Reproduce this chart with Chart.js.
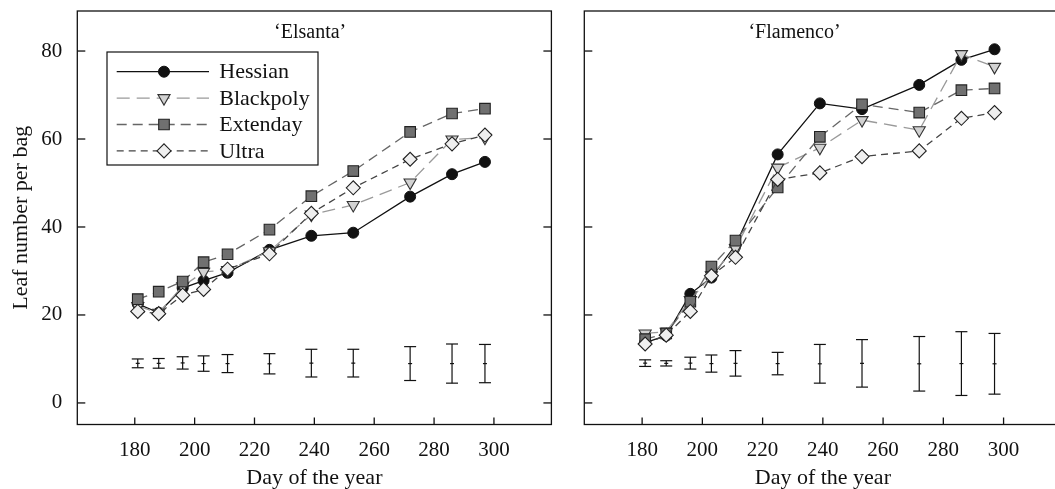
<!DOCTYPE html>
<html>
<head>
<meta charset="utf-8">
<script src="https://cdn.jsdelivr.net/npm/chart.js@4.4.1/dist/chart.umd.min.js"></script>
<style>
  html, body { margin: 0; padding: 0; background: #fff; overflow: hidden; width: 1055px; height: 489px; }
  canvas { position: absolute; top: 0; }
  #c1 { left: 0; }
  #c2 { left: 560px; }
</style>
</head>
<body>
<canvas id="c1" width="560" height="489"></canvas>
<canvas id="c2" width="510" height="489"></canvas>
<script>
// ---- data ----
const days = [181, 188, 196, 203, 211, 225, 239, 253, 272, 286, 297];
const xTicks = [180, 200, 220, 240, 260, 280, 300];
const yTicks = [0, 20, 40, 60, 80];
const seriesNames = ['Hessian', 'Blackpoly', 'Extenday', 'Ultra'];

const elsantaHessian   = [22.5, 20.5, 26.1, 27.8, 29.6, 34.8, 38.0, 38.7, 46.9, 52.0, 54.8];
const elsantaBlackpoly = [22.0, 20.5, 26.5, 29.8, 30.2, 34.5, 42.8, 45.0, 50.1, 59.9, 60.3];
const elsantaExtenday  = [23.6, 25.3, 27.6, 32.0, 33.8, 39.4, 47.0, 52.7, 61.6, 65.8, 66.9];
const elsantaUltra     = [20.8, 20.3, 24.5, 25.8, 30.4, 33.9, 43.1, 48.9, 55.4, 58.9, 60.9];
const elsantaErrLow    = [8.0, 7.9, 7.7, 7.2, 6.9, 6.6, 5.9, 5.9, 5.1, 4.5, 4.6];
const elsantaErrHigh   = [10.0, 10.1, 10.5, 10.7, 11.0, 11.2, 12.2, 12.2, 12.8, 13.4, 13.3];

const flamencoHessian   = [13.7, 15.3, 24.8, 28.5, 35.9, 56.5, 68.1, 66.8, 72.3, 78.0, 80.4];
const flamencoBlackpoly = [15.8, 16.2, 23.4, 29.0, 35.2, 53.5, 58.0, 64.3, 62.0, 79.3, 76.4];
const flamencoExtenday  = [14.5, 15.8, 23.0, 31.0, 36.9, 49.0, 60.5, 67.9, 66.0, 71.1, 71.5];
const flamencoUltra     = [13.4, 15.4, 20.8, 28.9, 33.1, 50.8, 52.3, 56.0, 57.3, 64.7, 66.0];
const flamencoErrLow    = [8.3, 8.4, 7.7, 7.0, 6.1, 6.4, 4.5, 3.6, 2.7, 1.7, 2.0];
const flamencoErrHigh   = [9.8, 9.6, 10.4, 10.9, 11.9, 11.5, 13.3, 14.4, 15.1, 16.2, 15.8];

// ---- styling ----
const FONT = '"Liberation Serif", "DejaVu Serif", serif';
const INK = '#111';
const styles = [
  { borderColor: '#111', borderWidth: 1.3, borderDash: [], pointStyle: 'circle', pointRadius: 5.5, pointRotation: 0,
    pointBackgroundColor: '#111', pointBorderColor: '#111', pointBorderWidth: 1, order: 4 },
  { borderColor: '#9a9a9a', borderWidth: 1.3, borderDash: [13, 7], pointStyle: 'triangle', pointRadius: 7, pointRotation: 180,
    pointBackgroundColor: '#d2d2d2', pointBorderColor: '#333', pointBorderWidth: 1.1, order: 3 },
  { borderColor: '#666', borderWidth: 1.3, borderDash: [10, 6], pointStyle: 'rect', pointRadius: 7.5, pointRotation: 0,
    pointBackgroundColor: '#707070', pointBorderColor: '#222', pointBorderWidth: 1.1, order: 2 },
  { borderColor: '#444', borderWidth: 1.3, borderDash: [7, 5], pointStyle: 'rectRot', pointRadius: 7, pointRotation: 0,
    pointBackgroundColor: '#efefef', pointBorderColor: '#222', pointBorderWidth: 1.1, order: 1 }
];

function makeDatasets(arrays) {
  return arrays.map((vals, i) => Object.assign({
    label: seriesNames[i],
    data: days.map((d, j) => ({ x: d, y: vals[j] })),
    fill: false, tension: 0, pointHoverRadius: 0
  }, styles[i]));
}

function line(ctx, x1, y1, x2, y2) { ctx.beginPath(); ctx.moveTo(x1, y1); ctx.lineTo(x2, y2); ctx.stroke(); }

const panelPlugin = {
  id: 'panel',
  beforeDatasetsDraw(chart, args, opts) {
    const { ctx, chartArea: a, scales: { x, y } } = chart;
    ctx.save();
    ctx.strokeStyle = INK; ctx.lineWidth = 1.3;
    ctx.strokeRect(a.left, a.top, a.right - a.left, a.bottom - a.top);
    yTicks.forEach(v => {
      const py = y.getPixelForValue(v);
      line(ctx, a.left, py, a.left + 8, py);
      if (opts.rightTicks) line(ctx, a.right, py, a.right - 8, py);
    });
    xTicks.forEach(v => {
      const px = x.getPixelForValue(v);
      line(ctx, px, a.bottom, px, a.bottom - 7);
    });
    // error bars
    ctx.lineWidth = 1.2;
    days.forEach((d, i) => {
      const px = x.getPixelForValue(d);
      const yl = y.getPixelForValue(opts.errLow[i]);
      const yh = y.getPixelForValue(opts.errHigh[i]);
      const ym = (yl + yh) / 2;
      line(ctx, px, yl, px, yh);
      line(ctx, px - 6, yl, px + 6, yl);
      line(ctx, px - 6, yh, px + 6, yh);
      line(ctx, px - 2, ym, px + 2, ym);
    });
    // panel title
    ctx.fillStyle = INK;
    ctx.font = '20px ' + FONT;
    ctx.textAlign = 'center'; ctx.textBaseline = 'middle';
    ctx.fillText(opts.title, x.getPixelForValue(opts.titleX), a.top + 22);
    ctx.restore();
  },
  afterDatasetsDraw(chart, args, opts) {
    if (!opts.legend) return;
    const { ctx, chartArea: a } = chart;
    const bx = a.left + 29.7, by = a.top + 41, bw = 211, bh = 113;
    ctx.save();
    ctx.fillStyle = '#fff';
    ctx.fillRect(bx, by, bw, bh);
    ctx.strokeStyle = INK; ctx.lineWidth = 1.2; ctx.setLineDash([]);
    ctx.strokeRect(bx, by, bw, bh);
    chart.data.datasets.forEach((ds, i) => {
      const ry = by + 19.7 + i * 26.4;
      ctx.strokeStyle = ds.borderColor; ctx.lineWidth = ds.borderWidth;
      ctx.setLineDash(ds.borderDash);
      line(ctx, bx + 9.7, ry, bx + 102, ry);
      ctx.setLineDash([]);
      ctx.fillStyle = ds.pointBackgroundColor; ctx.strokeStyle = ds.pointBorderColor;
      ctx.lineWidth = ds.pointBorderWidth;
      Chart.helpers.drawPoint(ctx, { pointStyle: ds.pointStyle, rotation: ds.pointRotation,
        radius: ds.pointRadius, borderWidth: ds.pointBorderWidth }, bx + 57, ry);
      ctx.fillStyle = INK;
      ctx.font = '22px ' + FONT;
      ctx.textAlign = 'left'; ctx.textBaseline = 'middle';
      ctx.fillText(ds.label, bx + 112.3, ry + 1);
    });
    ctx.restore();
  }
};

function makeChart(id, arrays, cfg) {
  return new Chart(document.getElementById(id), {
    type: 'line',
    data: { datasets: makeDatasets(arrays) },
    plugins: [panelPlugin],
    options: {
      responsive: false, animation: false, devicePixelRatio: 1,
      events: [],
      layout: { padding: { top: 11, right: cfg.padRight, left: 0, bottom: 0 } },
      plugins: {
        legend: { display: false }, tooltip: { enabled: false },
        panel: { title: cfg.title, titleX: cfg.titleX, legend: cfg.legend, rightTicks: cfg.rightTicks,
                 errLow: cfg.errLow, errHigh: cfg.errHigh }
      },
      scales: {
        x: {
          type: 'linear', min: 160.8, max: 319.2,
          grid: { display: false, drawTicks: false, drawOnChartArea: false },
          border: { display: false },
          afterBuildTicks: s => { s.ticks = xTicks.map(v => ({ value: v })); },
          afterFit: s => { s.height = 64.5; s.paddingLeft = 0; s.paddingRight = 0; },
          ticks: { font: { family: FONT, size: 21 }, color: INK, padding: 13, maxRotation: 0, autoSkip: false },
          title: { display: true, text: 'Day of the year', color: INK,
                   font: { family: FONT, size: 22, lineHeight: 1 }, padding: { top: 0, bottom: 0 } }
        },
        y: {
          type: 'linear', min: -4.9, max: 89.1,
          grid: { display: false, drawTicks: false, drawOnChartArea: false },
          border: { display: false },
          afterBuildTicks: s => { s.ticks = yTicks.map(v => ({ value: v })); },
          afterFit: s => { s.width = cfg.yWidth; s.paddingTop = 0; s.paddingBottom = 0; },
          ticks: { display: cfg.showY, font: { family: FONT, size: 21 }, color: INK, padding: 15 },
          title: { display: cfg.showY, text: 'Leaf number per bag', color: INK,
                   font: { family: FONT, size: 22, lineHeight: 1 }, padding: { top: 10, bottom: 0 } }
        }
      }
    }
  });
}

makeChart('c1', [elsantaHessian, elsantaBlackpoly, elsantaExtenday, elsantaUltra], {
  title: '\u2018Elsanta\u2019', titleX: 238.6, legend: true, showY: true, yWidth: 77.3, padRight: 7.3,
  rightTicks: true, errLow: elsantaErrLow, errHigh: elsantaErrHigh
});
makeChart('c2', [flamencoHessian, flamencoBlackpoly, flamencoExtenday, flamencoUltra], {
  title: '\u2018Flamenco\u2019', titleX: 230.6, legend: false, showY: false, yWidth: 24.3, padRight: 6.5,
  rightTicks: false, errLow: flamencoErrLow, errHigh: flamencoErrHigh
});
</script>
</body>
</html>
